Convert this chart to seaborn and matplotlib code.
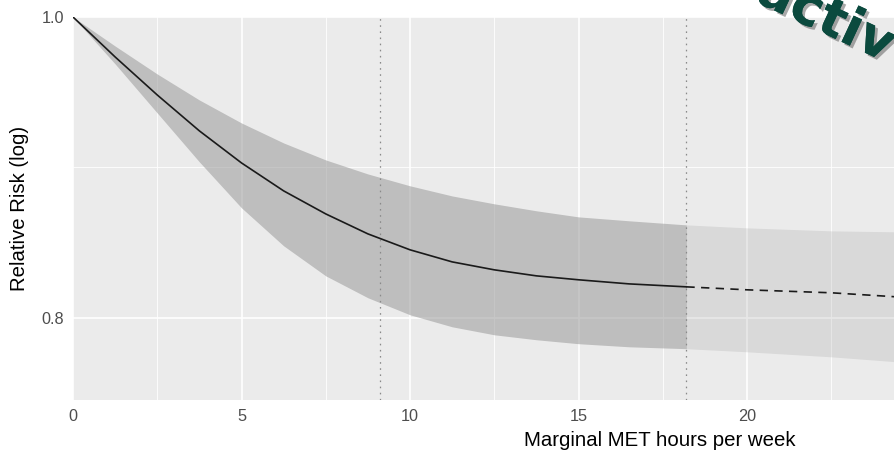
import numpy as np
import pandas as pd
import matplotlib
matplotlib.use("Agg")
import matplotlib.pyplot as plt
import matplotlib.patheffects as pe
import seaborn as sns

# ---- data ----
met_obs = [0, 1.25, 2.5, 3.75, 5, 6.25, 7.5, 8.75, 10, 11.25, 12.5, 13.75, 15, 16.5, 18.2]
rr_obs = [1.0, 0.9708, 0.9438, 0.9190, 0.8974, 0.8790, 0.8641, 0.8514, 0.8414, 0.8339,
          0.8290, 0.8253, 0.8229, 0.8204, 0.8186]
hi_obs = [1.0, 0.9787, 0.9586, 0.9403, 0.9244, 0.9108, 0.8994, 0.8901, 0.8823, 0.8757,
          0.8706, 0.8661, 0.8622, 0.8597, 0.8571]
lo_obs = [1.0, 0.9658, 0.9313, 0.8981, 0.8680, 0.8439, 0.8253, 0.8120, 0.8018, 0.7947,
          0.7900, 0.7871, 0.7848, 0.7830, 0.7819]

met_ext = [18.2, 20, 22.5, 24.4]
rr_ext = [0.8186, 0.8168, 0.8150, 0.8126]
hi_ext = [0.8571, 0.8552, 0.8533, 0.8527]
lo_ext = [0.7819, 0.7801, 0.7772, 0.7744]

ref_lines = [9.1, 18.2]
x_ticks = [0, 5, 10, 15, 20]
x_tick_labels = ["0", "5", "10", "15", "20"]
y_ticks = [0.8, 1.0]
y_tick_labels = ["0.8", "1.0"]
x_label = "Marginal MET hours per week"
y_label = "Relative Risk (log)"
overlay_word = "activ"

df_obs = pd.DataFrame({"met": met_obs, "rr": rr_obs})
df_ext = pd.DataFrame({"met": met_ext, "rr": rr_ext})

# ---- style ----
sns.set_theme(style="darkgrid")
plt.rcParams["font.family"] = ["Liberation Sans", "DejaVu Sans"]
plt.rcParams["axes.facecolor"] = "#EBEBEB"
plt.rcParams["lines.solid_capstyle"] = "round"
plt.rcParams["lines.solid_joinstyle"] = "round"

fig = plt.figure(figsize=(8.94, 4.5), dpi=100)
W, H = 894, 450
left, right, top, bottom = 73, 894, 17, 400
ax = fig.add_axes([left / W, 1 - bottom / H, (right - left) / W, (bottom - top) / H])
ax.set_facecolor("#EBEBEB")
for s in ax.spines.values():
    s.set_visible(False)

ax.set_yscale("log")
ax.set_xlim(0, 24.36)
ax.set_ylim(0.7527, 1.0)

# grid
ax.grid(False)
for xv in [0, 5, 10, 15, 20]:
    ax.axvline(xv, color="white", lw=1.2, zorder=0.5)
for xv in [2.5, 7.5, 12.5, 17.5, 22.5]:
    ax.axvline(xv, color="white", lw=0.6, zorder=0.5)
for yv in [0.8, 1.0]:
    ax.axhline(yv, color="white", lw=1.2, zorder=0.5)
ax.axhline(np.sqrt(0.8), color="white", lw=0.6, zorder=0.5)

# ribbons
ax.fill_between(met_obs, lo_obs, hi_obs, color="#999999", alpha=0.55, lw=0, zorder=1)
ax.fill_between(met_ext, lo_ext, hi_ext, color="#999999", alpha=0.22, lw=0, zorder=1)

# reference lines
for xv in ref_lines:
    ax.axvline(xv, color="#8a8a8a", lw=0.9, linestyle=(0, (1.3, 3.6)), zorder=2)

# estimate
sns.lineplot(data=df_obs, x="met", y="rr", ax=ax, color="#1a1a1a", lw=1.2, zorder=3)
sns.lineplot(data=df_ext, x="met", y="rr", ax=ax, color="#1a1a1a", lw=1.2,
             zorder=3, dashes=False)
ax.lines[-1].set_dashes((5, 3.8))

ax.set_xticks(x_ticks)
ax.set_xticklabels(x_tick_labels)
ax.set_yticks(y_ticks)
ax.set_yticklabels(y_tick_labels)
ax.yaxis.set_minor_locator(matplotlib.ticker.NullLocator())
ax.tick_params(axis="both", which="major", length=3.6, width=0.8, color="#333333",
               labelcolor="#4D4D4D", labelsize=11.7, pad=3)
ax.tick_params(axis="both", which="minor", length=0)

ax.set_xlabel(x_label, fontsize=14.7, color="black")
ax.set_ylabel(y_label, fontsize=14.7, color="black")
ax.xaxis.set_label_coords((660 - left) / (right - left), -0.08)
ax.yaxis.set_label_coords((29 - left) / (right - left), 0.5)

# overlay word from the slide
fig.text(754 / W, 1 - 1 / H, overlay_word, rotation=-25, rotation_mode="anchor",
         ha="left", va="baseline", fontsize=38, fontweight="bold",
         family="DejaVu Sans", color="#0B4A3E",
         path_effects=[pe.withSimplePatchShadow(offset=(2, -2), shadow_rgbFace="#555555", alpha=0.5),
                       pe.Normal()])

fig.savefig("out.png", dpi=100)
